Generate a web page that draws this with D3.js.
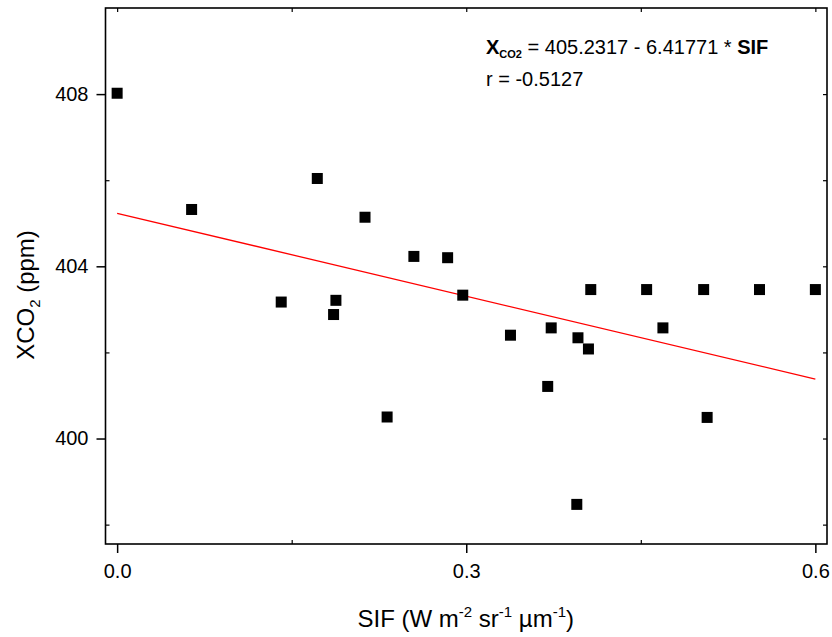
<!DOCTYPE html>
<html>
<head>
<meta charset="utf-8">
<script src="https://cdn.jsdelivr.net/npm/d3@7"></script>
<style>
  body { margin: 0; background: #fff; }
  svg { display: block; font-family: 'Liberation Sans', Arial, sans-serif; }
</style>
</head>
<body>
<div id="chart"></div>
<script>
const sif = [0.000, 0.064, 0.141, 0.172, 0.186, 0.188, 0.213, 0.232, 0.255, 0.284, 0.297, 0.338,
	0.370, 0.373, 0.396, 0.405, 0.395, 0.407, 0.455, 0.469, 0.504, 0.507, 0.552, 0.600]
const xco2 = [408.02, 405.32, 403.17, 406.04, 402.88, 403.21, 405.14, 400.50, 404.23, 404.20, 403.33, 402.40,
	401.21, 402.57, 402.34, 402.08, 398.47, 403.46, 403.46, 402.57, 403.46, 400.49, 403.46, 403.46]

// fitted line end points (from the equation on the chart)
const fitX = [0, 0.6]
const fitY = [405.2317, 401.3811]

const xMajor = [0, 0.3, 0.6]
const xMinor = [0.15, 0.45]
const yMajor = [400, 404, 408]
const yMinor = [398, 402, 406]

const W = 832, H = 637
const pL = 105.5, pR = 827, pT = 8, pB = 544

const data = sif.map((s, i) => ({ sif: s, xco2: xco2[i] }))

const svg = d3.select('#chart')
	.append('svg')
	.attr('width', W)
	.attr('height', H)

const x = d3.scaleLinear()
	.domain([-0.01, 0.61])
	.range([pL, pR])

const y = d3.scaleLinear()
	.domain([397.55, 410])
	.range([pB, pT])

const font = 'Liberation Sans, Arial, sans-serif'

// bottom axis: major out, minor in
svg.append('g')
	.attr('transform', `translate(0,${pB})`)
	.call(d3.axisBottom(x).tickValues(xMajor).tickSize(9).tickPadding(11).tickFormat(d3.format('.1f')))
	.call(g => g.select('.domain').remove())
	.call(g => g.selectAll('text').attr('font-size', 20).attr('font-family', font).attr('fill', '#000'))
	.call(g => g.selectAll('line').attr('stroke-width', 1.5))

svg.append('g')
	.attr('transform', `translate(0,${pB})`)
	.call(d3.axisBottom(x).tickValues(xMinor).tickSize(-4).tickFormat(''))
	.call(g => g.select('.domain').remove())
	.call(g => g.selectAll('line').attr('stroke-width', 1.2))

// top mirror axis
svg.append('g')
	.attr('transform', `translate(0,${pT})`)
	.call(d3.axisTop(x).tickValues(xMajor.concat(xMinor)).tickSize(-4).tickFormat(''))
	.call(g => g.select('.domain').remove())
	.call(g => g.selectAll('line').attr('stroke-width', 1.2))

// left axis
svg.append('g')
	.attr('transform', `translate(${pL},0)`)
	.call(d3.axisLeft(y).tickValues(yMajor).tickSize(9).tickPadding(8).tickFormat(d3.format('d')))
	.call(g => g.select('.domain').remove())
	.call(g => g.selectAll('text').attr('font-size', 20).attr('font-family', font).attr('fill', '#000'))
	.call(g => g.selectAll('line').attr('stroke-width', 1.5))

svg.append('g')
	.attr('transform', `translate(${pL},0)`)
	.call(d3.axisLeft(y).tickValues(yMinor).tickSize(-4).tickFormat(''))
	.call(g => g.select('.domain').remove())
	.call(g => g.selectAll('line').attr('stroke-width', 1.2))

// right mirror axis
svg.append('g')
	.attr('transform', `translate(${pR},0)`)
	.call(d3.axisRight(y).tickValues(yMajor.concat(yMinor)).tickSize(-4).tickFormat(''))
	.call(g => g.select('.domain').remove())
	.call(g => g.selectAll('line').attr('stroke-width', 1.2))

// frame
svg.append('rect')
	.attr('x', pL)
	.attr('y', pT)
	.attr('width', pR - pL)
	.attr('height', pB - pT)
	.attr('fill', 'none')
	.attr('stroke', '#000')
	.attr('stroke-width', 1.6)

// fit line
svg.append('line')
	.attr('x1', x(fitX[0]))
	.attr('y1', y(fitY[0]))
	.attr('x2', x(fitX[1]))
	.attr('y2', y(fitY[1]))
	.attr('stroke', '#ff0000')
	.attr('stroke-width', 1.3)

// points
const sz = 11
svg.append('g')
	.selectAll('rect')
	.data(data)
	.join('rect')
	.attr('x', d => x(d.sif) - sz / 2)
	.attr('y', d => y(d.xco2) - sz / 2)
	.attr('width', sz)
	.attr('height', sz)
	.attr('fill', '#000')

// equation
const eq = svg.append('text')
	.attr('x', 486)
	.attr('y', 54)
	.attr('font-size', 20)
	.attr('fill', '#000')
eq.append('tspan').attr('font-weight', 'bold').text('X')
eq.append('tspan').attr('font-weight', 'bold').attr('font-size', 11).attr('dy', 4).text('CO2')
eq.append('tspan').attr('dy', -4).text(' = 405.2317 - 6.41771 * ')
eq.append('tspan').attr('font-weight', 'bold').text('SIF')

svg.append('text')
	.attr('x', 486)
	.attr('y', 86)
	.attr('font-size', 20)
	.attr('fill', '#000')
	.text('r = -0.5127')

// x title
const xt = svg.append('text')
	.attr('x', (pL + pR) / 2 - 0.5)
	.attr('y', 627)
	.attr('text-anchor', 'middle')
	.attr('font-size', 24)
	.attr('fill', '#000')
xt.append('tspan').text('SIF (W m')
xt.append('tspan').attr('font-size', 15).attr('dy', -10).text('-2')
xt.append('tspan').attr('dy', 10).text(' sr')
xt.append('tspan').attr('font-size', 15).attr('dy', -10).text('-1')
xt.append('tspan').attr('dy', 10).text(' µm')
xt.append('tspan').attr('font-size', 15).attr('dy', -10).text('-1')
xt.append('tspan').attr('dy', 10).text(')')

// y title
const yt = svg.append('text')
	.attr('transform', `translate(34,${(pT + pB) / 2 + 19}) rotate(-90)`)
	.attr('text-anchor', 'middle')
	.attr('font-size', 24)
	.attr('fill', '#000')
yt.append('tspan').text('XCO')
yt.append('tspan').attr('font-size', 15).attr('dy', 6).text('2')
yt.append('tspan').attr('dy', -6).text(' (ppm)')
</script>
</body>
</html>
